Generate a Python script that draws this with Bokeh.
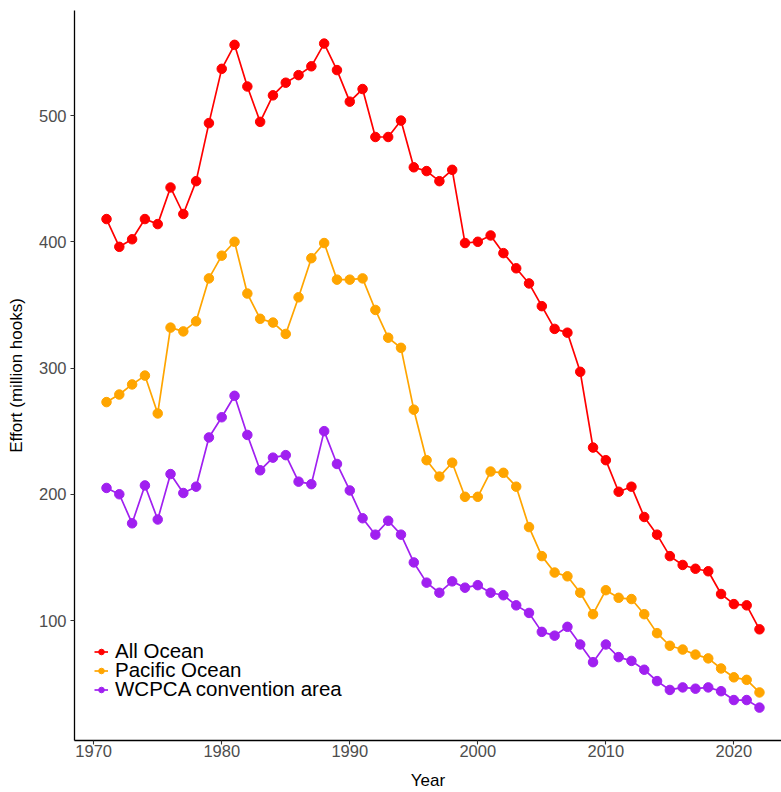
from bokeh.plotting import figure
from bokeh.models import ColumnDataSource, Range1d, FixedTicker, Legend, LegendItem
from bokeh.embed import file_html
from bokeh.resources import INLINE

years = list(range(1971, 2023))

all_ocean = [418, 396, 402, 418, 414, 443, 422, 448, 494, 537, 556, 523, 495, 516, 526, 532,
             539, 557, 536, 511, 521, 483, 483, 496, 459, 456, 448, 457, 399, 400, 405, 391,
             379, 367, 349, 331, 328, 297, 237, 227, 202, 206, 182, 168, 151, 144, 141, 139,
             121, 113, 112, 93]
pacific = [273, 279, 287, 294, 264, 332, 329, 337, 371, 389, 400, 359, 339, 336, 327, 356,
           387, 399, 370, 370, 371, 346, 324, 316, 267, 227, 214, 225, 198, 198, 218, 217,
           206, 174, 151, 138, 135, 122, 105, 124, 118, 117, 105, 90, 80, 77, 73, 70,
           62, 55, 53, 43]
wcpca = [205, 200, 177, 207, 180, 216, 201, 206, 245, 261, 278, 247, 219, 229, 231, 210,
         208, 250, 224, 203, 181, 168, 179, 168, 146, 130, 122, 131, 126, 128, 122, 120,
         112, 106, 91, 88, 95, 81, 67, 81, 71, 68, 61, 52, 45, 47, 46, 47,
         44, 37, 37, 31]

series_names = ["All Ocean", "Pacific Ocean", "WCPCA convention area"]
series_colors = ["#FF0000", "#FFA500", "#A020F0"]
x_ticks = [1970, 1980, 1990, 2000, 2010, 2020]
y_ticks = [100, 200, 300, 400, 500]

FONT = "Liberation Sans"

p = figure(width=781, height=792, output_backend="svg", toolbar_location=None,
           x_range=Range1d(1968.5, 2023.72), y_range=Range1d(4.95, 583.2),
           min_border_left=74, min_border_right=0, min_border_top=10, min_border_bottom=52)
p.outline_line_color = None
p.background_fill_color = "white"
p.border_fill_color = "white"
p.xgrid.visible = False
p.ygrid.visible = False

legend_bottoms = [77, 58, 39]
for name, vals, col, lb in zip(series_names, [all_ocean, pacific, wcpca], series_colors, legend_bottoms):
    src = ColumnDataSource(dict(x=years, y=vals))
    r1 = p.line("x", "y", source=src, line_color=col, line_width=1.7)
    r2 = p.scatter("x", "y", source=src, size=9.5, fill_color=col, line_color=col)
    lg = Legend(items=[LegendItem(label=name, renderers=[r1, r2])], location=(20, lb),
                border_line_color=None, background_fill_alpha=0, padding=0, margin=0,
                spacing=0, glyph_width=14, glyph_height=19, label_height=19,
                label_standoff=7, label_text_font=FONT, label_text_font_size="20.5px",
                label_text_color="black")
    p.add_layout(lg, "center")

for ax in (p.xaxis, p.yaxis):
    ax.axis_line_color = "black"
    ax.axis_line_width = 1.3
    ax.major_tick_line_color = "#333333"
    ax.major_tick_line_width = 1.1
    ax.major_tick_out = 4
    ax.major_tick_in = 0
    ax.minor_tick_line_color = None
    ax.major_label_text_font = FONT
    ax.major_label_text_font_size = "16.5px"
    ax.major_label_text_color = "#4D4D4D"
    ax.axis_label_text_font = FONT
    ax.axis_label_text_font_size = "17px"
    ax.axis_label_text_font_style = "normal"
    ax.axis_label_text_color = "black"

p.xaxis.ticker = FixedTicker(ticks=x_ticks)
p.yaxis.ticker = FixedTicker(ticks=y_ticks)
p.xaxis.major_label_standoff = 0
p.yaxis.major_label_standoff = 4
p.xaxis.axis_label = "Year"
p.yaxis.axis_label = "Effort (million hooks)"
p.xaxis.axis_label_standoff = 11
p.yaxis.axis_label_standoff = 10

open("out.html", "w").write(file_html(p, INLINE))
